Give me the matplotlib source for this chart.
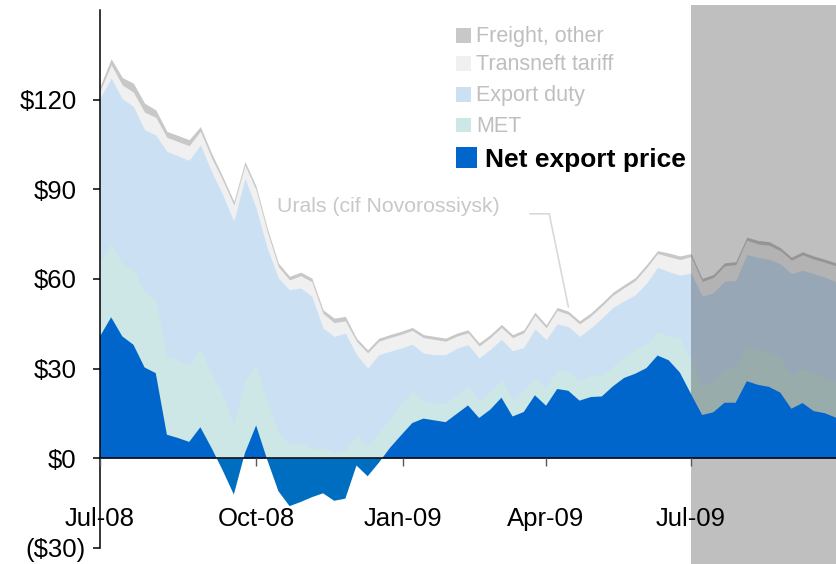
"""
Urals netback breakdown, weekly, Jul-08 to Sep-09 (stacked area).
"""

import numpy as np
import matplotlib
matplotlib.use("Agg")
import matplotlib.pyplot as plt
import matplotlib.dates as mdates
import matplotlib.transforms as mtransforms
from matplotlib.patches import Rectangle


plt.rcParams['font.family'] = ['Liberation Sans', 'DejaVu Sans']

FIG_W, FIG_H = 836, 564

# weekly observations, $/bbl
first_week = np.datetime64('2008-06-25')

net_export = [40.8, 47.2, 40.8, 38.0, 30.4, 28.5, 7.9, 6.8, 5.5, 10.4,
              3.5, -4.0, -12.1, 1.8, 11.0, -0.5, -11.0, -16.0, -14.6, -13.0,
              -11.7, -14.2, -13.5, -2.4, -6.0, -1.5, 3.5, 7.7, 11.8, 13.3,
              12.7, 12.1, 14.9, 17.7, 13.5, 16.3, 20.3, 14.0, 15.5, 21.1,
              17.6, 23.2, 22.6, 19.3, 20.5, 20.7, 24.1, 26.9, 28.3, 30.2,
              34.4, 32.8, 28.7, 21.5, 14.5, 15.4, 18.6, 18.6, 25.8, 24.6,
              23.9, 22.0, 16.6, 18.5, 15.8, 15.1, 13.6]
met = [25.1, 24.8, 24.5, 25.1, 25.5, 24.6, 26.2, 26.2, 25.8, 26.0,
       25.0, 21.3, 11.3, 24.0, 20.3, 19.1, 9.0, 4.6, 5.3, 3.3,
       3.7, 1.6, 2.9, 7.7, 4.0, 8.7, 10.0, 10.6, 10.6, 5.8,
       6.0, 6.2, 6.4, 6.6, 5.6, 6.1, 6.1, 6.0, 7.1, 6.0,
       5.9, 6.7, 6.5, 6.7, 7.3, 7.3, 6.7, 7.2, 8.4, 8.0,
       8.1, 8.2, 11.6, 11.5, 10.1, 10.7, 11.4, 11.7, 11.4, 11.9,
       11.7, 11.7, 11.5, 11.6, 12.9, 11.9, 12.0]
export_duty = [54.6, 55.2, 55.0, 54.6, 54.0, 55.1, 68.6, 68.2, 68.4, 68.5,
               67.5, 66.9, 68.0, 67.9, 52.4, 51.2, 51.3, 51.8, 51.7, 50.9,
               39.9, 39.2, 39.0, 27.0, 26.2, 26.0, 22.3, 18.6, 15.8, 16.1,
               16.0, 16.4, 15.6, 13.7, 14.5, 14.1, 13.4, 16.0, 14.5, 16.2,
               16.2, 15.1, 15.0, 14.8, 15.8, 18.9, 19.7, 18.6, 18.0, 20.4,
               21.4, 21.5, 21.0, 29.0, 29.7, 29.3, 29.3, 29.2, 31.0, 30.8,
               31.0, 31.4, 33.7, 32.8, 33.1, 33.6, 33.5]
transneft = [2.4, 4.5, 4.6, 4.8, 5.9, 5.9, 4.7, 4.8, 4.9, 4.6,
             4.6, 4.9, 5.5, 4.4, 6.1, 5.5, 3.8, 3.3, 4.1, 4.9,
             4.9, 4.6, 4.1, 4.5, 5.1, 4.5, 4.6, 4.6, 4.6, 5.2,
             5.1, 4.5, 4.0, 4.0, 4.0, 3.9, 4.0, 4.4, 4.9, 4.6,
             4.0, 4.5, 4.1, 4.2, 4.0, 4.1, 4.1, 4.4, 4.8, 5.2,
             4.6, 5.0, 5.2, 5.5, 4.9, 5.1, 5.1, 5.3, 4.8, 4.4,
             4.7, 4.4, 4.5, 5.2, 4.9, 5.0, 5.3]
freight = [1.5, 2.0, 2.5, 3.0, 3.0, 2.5, 2.0, 2.0, 2.0, 1.5,
           1.5, 1.2, 1.2, 1.2, 1.2, 1.2, 1.2, 1.2, 1.2, 1.2,
           1.2, 1.5, 1.5, 1.0, 1.0, 1.0, 1.0, 1.0, 1.0, 1.0,
           1.0, 1.0, 1.0, 1.0, 1.0, 1.0, 1.0, 1.0, 1.0, 1.0,
           1.0, 1.0, 1.0, 1.0, 1.0, 1.0, 1.0, 1.0, 1.0, 1.0,
           1.0, 1.2, 1.2, 1.0, 1.0, 1.0, 1.0, 1.0, 1.0, 1.2,
           1.2, 1.0, 1.0, 1.0, 1.0, 1.0, 1.0]

tick_dates = ['2008-06-25', '2008-10-01', '2009-01-01', '2009-04-01', '2009-07-01']
tick_labels = ['Jul-08', 'Oct-08', 'Jan-09', 'Apr-09', 'Jul-09']
y_ticks = [-30, 0, 30, 60, 90, 120]
forecast_start = '2009-07-01'

legend_labels = ['Freight, other', 'Transneft tariff', 'Export duty', 'MET']

C_NET = '#0066CC'
C_NET_NEG = '#006EC0'
C_MET = '#CDE6E6'
C_DUTY = '#CCE0F4'
C_TRANSNEFT = '#F0F0F0'
C_FREIGHT = '#C8C8C8'
C_TEXT_LIGHT = '#BFBFBF'
TICK_FS = 18.5


def fx(px):
    return px / FIG_W


def fy(py):
    return 1 - py / FIG_H


net = np.array(net_export)
dates = first_week + 7 * np.arange(len(net))
base = np.maximum(net, 0)
top_met = base + np.array(met)
top_duty = top_met + np.array(export_duty)
top_transneft = top_duty + np.array(transneft)
urals = top_transneft + np.array(freight)

fig = plt.figure(figsize=(FIG_W / 100, FIG_H / 100), dpi=100)
ax = fig.add_axes([fx(100), 16 / FIG_H, fx(736), 538 / FIG_H])

# painter's stack: each layer filled from zero, upper ones first
ax.fill_between(dates, 0, urals, color=C_FREIGHT, lw=0, zorder=1)
ax.fill_between(dates, 0, top_transneft, color=C_TRANSNEFT, lw=0, zorder=2)
ax.fill_between(dates, 0, top_duty, color=C_DUTY, lw=0, zorder=3)
ax.fill_between(dates, 0, top_met, color=C_MET, lw=0, zorder=4)

# forecast shading
x0 = mdates.date2num(np.datetime64(forecast_start))
trans = mtransforms.blended_transform_factory(ax.transData, ax.transAxes)
ax.add_patch(Rectangle((x0, -0.04), 400, 1.05, transform=trans, facecolor='black',
                       alpha=0.25, lw=0, clip_on=False, zorder=5))

ax.fill_between(dates, 0, net, where=net >= 0, interpolate=True,
                color=C_NET, lw=0, zorder=6)
ax.fill_between(dates, 0, net, where=net <= 0, interpolate=True,
                color=C_NET_NEG, lw=0, zorder=6)

ax.set_xlim(dates[0], dates[-1])
ax.set_ylim(-30, 150)

for side in ['top', 'right']:
    ax.spines[side].set_visible(False)
ax.spines['bottom'].set_position(('data', 0))
for side in ['left', 'bottom']:
    ax.spines[side].set_linewidth(1.1)
    ax.spines[side].set_zorder(10)
ax.xaxis.set_zorder(10)
ax.yaxis.set_zorder(10)

ax.set_xticks([mdates.date2num(np.datetime64(d)) for d in tick_dates])
ax.set_xticklabels(tick_labels)
ax.set_yticks(y_ticks)
ax.set_yticklabels([])
ax.tick_params(axis='x', direction='out', length=6, width=1, color='#595959',
               pad=29, labelsize=TICK_FS)
ax.tick_params(axis='y', direction='out', length=5, width=1.1)

# y labels in accounting style: positives leave room for the closing paren
ylab_trans = mtransforms.blended_transform_factory(fig.transFigure, ax.transData)
for v in y_ticks:
    if v < 0:
        txt, right_px = '(${})'.format(-v), 85.5
    else:
        txt, right_px = '${}'.format(v), 76.5
    ax.text(fx(right_px), v, txt, transform=ylab_trans, ha='right',
            va='center_baseline', fontsize=TICK_FS, clip_on=False)

# legend, top to bottom
rows_y = [35.5, 63.5, 94.5, 125]
colors = [C_FREIGHT, C_TRANSNEFT, C_DUTY, C_MET]
for label, color, ry in zip(legend_labels, colors, rows_y):
    fig.patches.append(Rectangle((fx(456), fy(ry + 7.3)), fx(14.7), 14.7 / FIG_H,
                                 transform=fig.transFigure, facecolor=color, lw=0))
    fig.text(fx(476), fy(ry + 6.5), label, fontsize=15.5, color=C_TEXT_LIGHT,
             va='baseline', ha='left')
fig.patches.append(Rectangle((fx(456), fy(168)), fx(21), 21 / FIG_H,
                             transform=fig.transFigure, facecolor=C_NET, lw=0))
fig.text(fx(485), fy(166.5), 'Net export price', fontsize=19, fontweight='bold',
         color='black', va='baseline', ha='left')

# Urals label with leader line
fig.text(fx(277), fy(212), 'Urals (cif Novorossiysk)', fontsize=15.3,
         color='#C8C8C8', va='baseline', ha='left')
k_leader = 42
lead_x = [dates[k_leader] - np.timedelta64(24, 'D'), dates[k_leader] - np.timedelta64(12, 'D'),
          dates[k_leader]]
lead_y = [81.8, 81.8, urals[k_leader] + 1.5]
ax.plot(lead_x, lead_y, color='#D9D9D9', lw=1.2, zorder=7, clip_on=False)

fig.savefig('out.png', dpi=100)
